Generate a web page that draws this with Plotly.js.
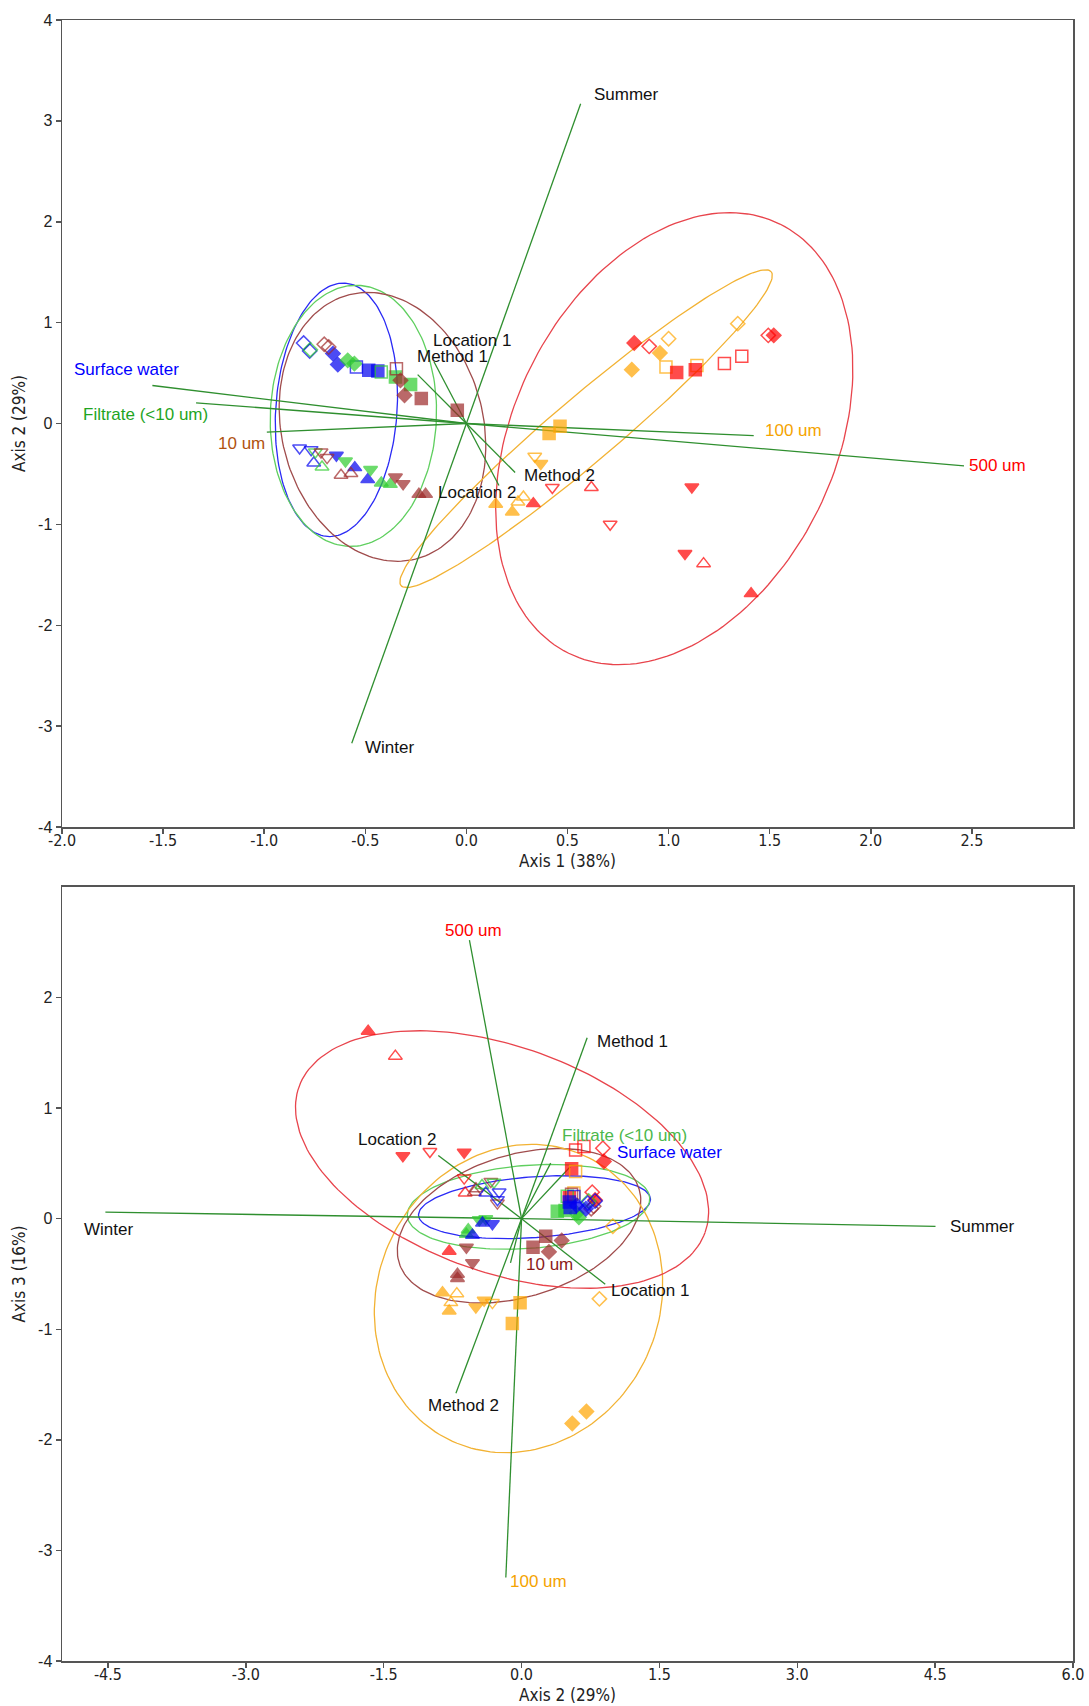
<!DOCTYPE html>
<html><head><meta charset="utf-8">
<script src="https://cdn.plot.ly/plotly-3.0.1.min.js"></script>
<style>body{margin:0;background:#fff}#chart{width:1089px;height:1706px}</style>
</head><body><div id="chart"></div>
<script>
// ---------- DATA ----------
// Top plot: samples, Axis 1 (x) vs Axis 2 (y)
const topGroup = [
 'SW','SW','SW','SW','SW','SW','SW','SW','SW','SW','SW','SW','SW',
 'FI','FI','FI','FI','FI','FI','FI','FI','FI','FI','FI','FI',
 '10','10','10','10','10','10','10','10','10','10','10','10','10','10','10',
 '100','100','100','100','100','100','100','100','100','100','100','100','100','100',
 '500','500','500','500','500','500','500','500','500','500','500','500','500','500','500','500'];
const topSymbol = [
 'diamond-open','diamond-open','diamond','diamond','square-open','square','square','triangle-down-open','triangle-down-open','triangle-up-open','triangle-down','triangle-up','triangle-up',
 'diamond-open','diamond','diamond','square-open','square','square','triangle-down-open','triangle-up-open','triangle-down','triangle-down','triangle-up','triangle-up',
 'diamond-open','diamond-open','square-open','diamond','diamond','square','square','triangle-down-open','triangle-down-open','triangle-up-open','triangle-up-open','triangle-down','triangle-down','triangle-up','triangle-up',
 'square','square','triangle-down-open','triangle-down','triangle-up-open','triangle-up-open','triangle-up','triangle-up','diamond-open','diamond-open','diamond','diamond','square-open','square-open',
 'diamond','diamond-open','square','square','square-open','square-open','diamond-open','diamond','triangle-down-open','triangle-up','triangle-up-open','triangle-down','triangle-down-open','triangle-down','triangle-up-open','triangle-up'];
const topX = [
 -0.805,-0.775,-0.660,-0.636,-0.544,-0.483,-0.438,-0.825,-0.768,-0.755,-0.643,-0.552,-0.488,
 -0.772,-0.587,-0.554,-0.421,-0.351,-0.276,-0.747,-0.714,-0.598,-0.474,-0.421,-0.376,
 -0.703,-0.681,-0.346,-0.326,-0.306,-0.223,-0.045,-0.719,-0.689,-0.620,-0.571,-0.351,-0.313,-0.235,-0.202,
 0.463,0.409,0.338,0.368,0.282,0.255,0.145,0.227,1.342,1.000,0.957,0.818,0.987,1.140,
 0.830,0.904,1.040,1.132,1.276,1.362,1.493,1.520,0.425,0.331,0.618,1.115,0.711,1.081,1.173,1.408];
const topY = [
 0.798,0.719,0.693,0.584,0.560,0.527,0.520,-0.243,-0.259,-0.391,-0.315,-0.437,-0.556,
 0.732,0.626,0.594,0.510,0.461,0.386,-0.282,-0.431,-0.372,-0.457,-0.590,-0.603,
 0.785,0.758,0.544,0.428,0.280,0.247,0.131,-0.282,-0.338,-0.513,-0.496,-0.530,-0.596,-0.702,-0.702,
 -0.028,-0.100,-0.325,-0.397,-0.728,-0.778,-0.801,-0.877,0.990,0.841,0.699,0.534,0.560,0.574,
 0.798,0.765,0.505,0.534,0.594,0.666,0.874,0.874,-0.635,-0.794,-0.635,-0.629,-0.999,-1.289,-1.389,-1.686];

// Bottom plot: samples, Axis 2 (x) vs Axis 3 (y)
const botGroup = [
 '500','500','500','500','500','500','500','500','500','500','500','500','500','500','500','500',
 '100','100','100','100','100','100','100','100','100','100','100','100','100','100','100',
 '10','10','10','10','10','10','10','10','10','10','10','10','10','10','10',
 'FI','FI','FI','FI','FI','FI','FI','FI','FI','FI','FI','FI',
 'SW','SW','SW','SW','SW','SW','SW','SW','SW','SW','SW','SW','SW'];
const botSymbol = [
 'triangle-up','triangle-up-open','triangle-down','triangle-down-open','triangle-down','triangle-down-open','triangle-up-open','triangle-up','square-open','square-open','diamond-open','diamond','square','square','diamond-open','diamond',
 'square-open','square-open','diamond-open','diamond-open','diamond','diamond','square','square','triangle-up','triangle-up-open','triangle-up-open','triangle-up','triangle-down','triangle-down','triangle-down-open',
 'square','square','diamond','diamond','triangle-up','triangle-up','triangle-down','triangle-down','triangle-up-open','triangle-up-open','triangle-down-open','triangle-down-open','diamond-open','diamond-open','square-open',
 'diamond-open','diamond','diamond','square-open','square','square','triangle-down-open','triangle-up-open','triangle-down','triangle-down','triangle-up','triangle-up',
 'diamond-open','diamond-open','diamond','diamond','square-open','square','square','triangle-down-open','triangle-down-open','triangle-up-open','triangle-down','triangle-up','triangle-up'];
const botX = [
 -1.669,-1.373,-1.291,-0.997,-0.624,-0.624,-0.613,-0.787,0.588,0.679,0.885,0.896,0.545,0.520,0.769,0.800,
 0.588,0.570,0.993,0.847,0.706,0.552,-0.016,-0.100,-0.860,-0.704,-0.769,-0.787,-0.497,-0.407,-0.317,
 0.263,0.125,0.437,0.298,-0.697,-0.697,-0.534,-0.600,-0.513,-0.496,-0.263,-0.334,0.785,0.758,0.544,
 0.730,0.624,0.600,0.497,0.473,0.389,-0.300,-0.430,-0.389,-0.460,-0.580,-0.600,
 0.800,0.720,0.700,0.600,0.570,0.530,0.520,-0.244,-0.262,-0.389,-0.317,-0.425,-0.534];
const botY = [
 1.696,1.470,0.569,0.607,0.601,0.367,0.232,-0.294,0.622,0.652,0.637,0.517,0.451,0.190,0.240,0.170,
 0.427,0.232,-0.068,-0.725,-1.744,-1.852,-0.760,-0.949,-0.669,-0.678,-0.759,-0.834,-0.798,-0.738,-0.759,
 -0.158,-0.258,-0.197,-0.300,-0.503,-0.540,-0.399,-0.258,0.240,0.270,0.141,0.337,0.112,0.090,0.220,
 0.160,0.013,0.050,0.202,0.073,0.067,0.330,0.300,0.000,-0.010,-0.100,-0.140,
 0.160,0.140,0.090,0.120,0.200,0.100,0.150,0.241,0.172,0.232,-0.045,-0.040,-0.150];

// Group ellipses: centre, semi-axes (in x units), screen angle (deg)
const ellGroup = ['SW','FI','10','100','500'];
const topEllCx = [-0.643,-0.559,-0.415,0.592,1.028];
const topEllCy = [0.136,0.076,-0.033,-0.051,-0.150];
const topEllA = [0.628,0.646,0.674,1.200,1.183];
const topEllB = [0.300,0.411,0.499,0.160,0.794];
const topEllAng = [86,88,104,40.3,63.8];
const botEllCx = [0.141,0.076,-0.027,-0.033,-0.212];
const botEllCy = [0.104,0.107,-0.064,-0.722,0.535];
const botEllA = [1.265,1.322,1.366,1.712,2.347];
const botEllB = [0.331,0.452,0.772,1.531,1.227];
const botEllAng = [4.1,4.3,17.2,63.4,-19.75];

// Biplot vectors (end points)
const vecNames = ['Summer','Winter','Surface water','Filtrate (<10 um)','10 um','100 um','500 um','Location 1','Location 2','Method 1','Method 2'];
const topVecX = [0.565,-0.567,-1.553,-1.337,-0.987,1.421,2.461,-0.161,0.161,-0.241,0.241];
const topVecY = [3.170,-3.170,0.377,0.205,-0.086,-0.119,-0.420,0.615,-0.615,0.485,-0.485];
const botVecX = [4.504,-4.528,0.53,0.317,-0.12,-0.171,-0.567,0.911,-0.906,0.714,-0.714];
const botVecY = [-0.069,0.059,0.47,0.502,-0.40,-3.245,2.52,-0.594,0.571,1.637,-1.578];

// Axis ticks
const topXTicks = [-2,-1.5,-1,-0.5,0,0.5,1,1.5,2,2.5];
const topXTickText = ['-2.0','-1.5','-1.0','-0.5','0.0','0.5','1.0','1.5','2.0','2.5'];
const topYTicks = [-4,-3,-2,-1,0,1,2,3,4];
const topYTickText = ['-4','-3','-2','-1','0','1','2','3','4'];
const botXTicks = [-4.5,-3,-1.5,0,1.5,3,4.5,6];
const botXTickText = ['-4.5','-3.0','-1.5','0.0','1.5','3.0','4.5','6.0'];
const botYTicks = [-4,-3,-2,-1,0,1,2];
const botYTickText = ['-4','-3','-2','-1','0','1','2'];

// ---------- STYLE ----------
const W = 1089, H = 1706;
const M = {l:62, r:16, t:20, b:45};
const topDom = [0.5082, 1], botDom = [0, 0.4717];
const topXR = [-2, 3], topYR = [-4, 4], botXR = [-5, 6], botYR = [-4, 3];
const markerColor = {SW:'#0000f0', FI:'#2ecc2e', '10':'#9e2a2a', '100':'#ffa500', '500':'#ff0000'};
const ellColor = {SW:'#2a2af5', FI:'#5fcf5f', '10':'#a04c4c', '100':'#f2b233', '500':'#e8444c'};
const vecColor = '#2f8f2f';
const FONT = 'Liberation Sans, Arial, sans-serif';
const NARROW = 'Liberation Sans Narrow, Arial Narrow, DejaVu Sans Condensed, sans-serif';

const pw = W - M.l - M.r, ph = H - M.t - M.b;
function kOf(xr, yr, dom){
  const pxX = pw/(xr[1]-xr[0]);
  const pxY = ph*(dom[1]-dom[0])/(yr[1]-yr[0]);
  return pxY/pxX;
}
const kTop = kOf(topXR, topYR, topDom), kBot = kOf(botXR, botYR, botDom);

function ellipse(cx, cy, a, b, angDeg, k){
  const th = angDeg*Math.PI/180, xs=[], ys=[];
  for(let i=0;i<=180;i++){
    const t = 2*Math.PI*i/180;
    const dx = a*Math.cos(t)*Math.cos(th) - b*Math.sin(t)*Math.sin(th);
    const dy = a*Math.cos(t)*Math.sin(th) + b*Math.sin(t)*Math.cos(th);
    xs.push(cx+dx); ys.push(cy+dy/k);
  }
  return {xs, ys};
}

const traces = [];
function addEllipses(cxA, cyA, aA, bA, angA, k, xa, ya){
  ellGroup.forEach((g,i)=>{
    const e = ellipse(cxA[i], cyA[i], aA[i], bA[i], angA[i], k);
    traces.push({type:'scatter', mode:'lines', x:e.xs, y:e.ys, xaxis:xa, yaxis:ya,
      line:{color:ellColor[g], width:1.3}, hoverinfo:'skip', showlegend:false});
  });
}
function addVectors(vx, vy, xa, ya){
  vx.forEach((x,i)=>{
    traces.push({type:'scatter', mode:'lines', x:[0,x], y:[0,vy[i]], xaxis:xa, yaxis:ya,
      line:{color:vecColor, width:1.3}, hoverinfo:'skip', showlegend:false});
  });
}
function addSamples(gs, syms, xs, ys, xa, ya){
  const cols = gs.map(g=>markerColor[g]);
  const sizes = syms.map(s=> s.startsWith('diamond') ? 11 : 12);
  traces.push({type:'scatter', mode:'markers', x:xs, y:ys, xaxis:xa, yaxis:ya,
    marker:{symbol:syms, color:cols, size:sizes, line:{color:cols, width:1.5}},
    showlegend:false});
}

addEllipses(topEllCx, topEllCy, topEllA, topEllB, topEllAng, kTop, 'x', 'y');
addVectors(topVecX, topVecY, 'x', 'y');
addSamples(topGroup, topSymbol, topX, topY, 'x', 'y');
addEllipses(botEllCx, botEllCy, botEllA, botEllB, botEllAng, kBot, 'x2', 'y2');
addVectors(botVecX, botVecY, 'x2', 'y2');
addSamples(botGroup, botSymbol, botX, botY, 'x2', 'y2');

// label styles: [color, xanchor, xshift, yshift]
const topLabStyle = [
 ['#111','left',11,9], ['#111','left',11,-4], ['#0000ff','center',-26,16], ['#1fa51f','right',14,-12],
 ['#b0520f','right',0,-11], ['#f5a300','left',9,5], ['#ff0000','left',3,0],
 ['#111','left',-3,21], ['#111','left',-63,-7], ['#111','left',-3,18], ['#111','left',7,-3]];
const botLabStyle = [
 ['#111','left',12,0], ['#111','center',3,-17], ['#0000ff','left',45,14], ['#4cb84c','left',9,28],
 ['#8b1a1a','left',13,-2], ['#f5a300','left',2,-4], ['#ff0000','center',4,10],
 ['#111','left',4,-6], ['#111','right',0,16], ['#111','left',8,-4], ['#111','center',8,-12]];

const annotations = [];
function addLabels(vx, vy, st, xr, yr){
  vecNames.forEach((n,i)=>{
    annotations.push({text:n, x:vx[i], y:vy[i], xref:xr, yref:yr, showarrow:false,
      xanchor:st[i][1], yanchor:'middle', xshift:st[i][2], yshift:st[i][3],
      font:{family:FONT, size:17, color:st[i][0]}});
  });
}
addLabels(topVecX, topVecY, topLabStyle, 'x', 'y');
addLabels(botVecX, botVecY, botLabStyle, 'x2', 'y2');

const axBase = {showgrid:false, zeroline:false, showline:true, mirror:true, linecolor:'#555', linewidth:1.5,
  ticks:'outside', ticklen:5, tickcolor:'#555', tickwidth:1.5};
const layout = {
  width:W, height:H, margin:M, paper_bgcolor:'#fff', plot_bgcolor:'#fff', showlegend:false,
  font:{family:FONT, color:'#222'},
  xaxis: Object.assign({}, axBase, {range:topXR, anchor:'y', tickvals:topXTicks, ticktext:topXTickText,
    ticklabelstandoff:-7,
    tickfont:{family:NARROW, size:16, color:'#222'},
    title:{text:'Axis 1 (38%)', font:{family:NARROW, size:17, color:'#222'}, standoff:6}}),
  yaxis: Object.assign({}, axBase, {range:topYR, domain:topDom, anchor:'x', tickvals:topYTicks, ticktext:topYTickText,
    tickfont:{family:FONT, size:16, color:'#222'},
    title:{text:'Axis 2 (29%)', font:{family:NARROW, size:17, color:'#222'}, standoff:8}}),
  xaxis2: Object.assign({}, axBase, {range:botXR, anchor:'y2', tickvals:botXTicks, ticktext:botXTickText,
    ticklabelstandoff:-7,
    tickfont:{family:NARROW, size:16, color:'#222'},
    title:{text:'Axis 2 (29%)', font:{family:NARROW, size:17, color:'#222'}, standoff:6}}),
  yaxis2: Object.assign({}, axBase, {range:botYR, domain:botDom, anchor:'x2', tickvals:botYTicks, ticktext:botYTickText,
    tickfont:{family:FONT, size:16, color:'#222'},
    title:{text:'Axis 3 (16%)', font:{family:NARROW, size:17, color:'#222'}, standoff:8}}),
  annotations: annotations
};
Plotly.newPlot('chart', traces, layout, {staticPlot:true, displayModeBar:false});
</script>
</body></html>
